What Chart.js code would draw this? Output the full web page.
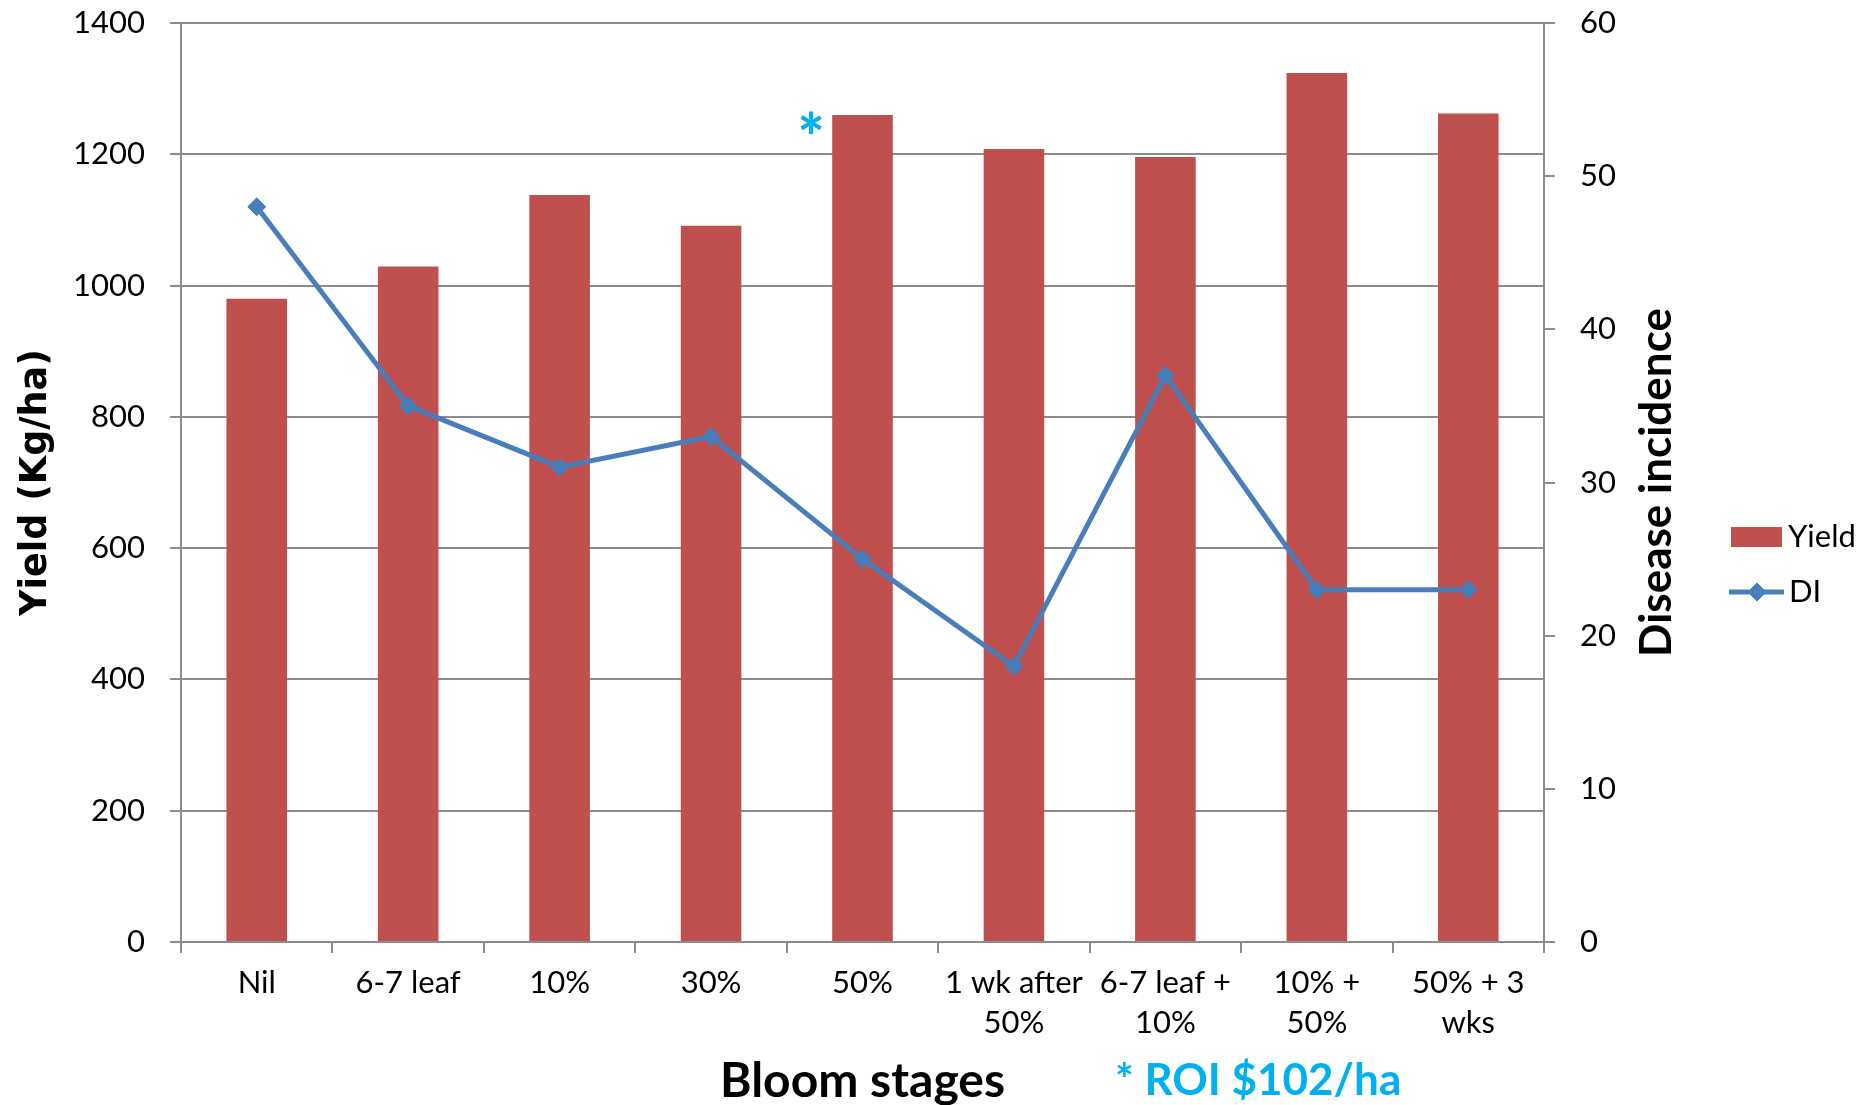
<!DOCTYPE html>
<html>
<head>
<meta charset="utf-8">
<script src="https://cdn.jsdelivr.net/npm/chart.js@4/dist/chart.umd.min.js"></script>
<style>
  html, body { margin: 0; padding: 0; background: #ffffff; }
  #wrap { width: 1862px; height: 1105px; }
</style>
</head>
<body>
<div id="wrap"><canvas id="chart" width="1862" height="1105"></canvas></div>
<script>
// Bloom-stage fungicide timings (two-line labels where the text wraps)
const stages = [
  ['Nil'], ['6-7 leaf'], ['10%'], ['30%'], ['50%'],
  ['1 wk after', '50%'], ['6-7 leaf +', '10%'], ['10% +', '50%'], ['50% + 3', 'wks']
];
// Yield, Kg/ha (bars, left axis)
const yieldKgHa = [980, 1029, 1138, 1091, 1260, 1208, 1196, 1324, 1262];
// Disease incidence (line, right axis)
const diseaseIncidence = [48, 35, 31, 33, 25, 18, 37, 23, 23];
// Axis tick values
const yieldTicks = [0, 200, 400, 600, 800, 1000, 1200, 1400];
const diTicks = [0, 10, 20, 30, 40, 50, 60];
// Text
const seriesNames = ['Yield', 'DI'];
const yieldTitle = 'Yield (Kg/ha)';
const diTitle = 'Disease incidence';
const stageTitle = 'Bloom stages';
const roiNote = '* ROI $102/ha';
const roiMark = '*';
const roiStageIndex = 4; // the '50%' timing carries the ROI mark

const BAR = '#C0504D';
const LINE = '#4A7EBB';
const GRID = '#8C8C8C';
const CYAN = '#00B0F0';
const FONT = 'Lato';
const tickFont = { family: FONT, size: 31, lineHeight: 1.28 };

// remove the extra room Chart.js reserves for overhanging tick labels
const noOverhang = s => { s.paddingTop = 0; s.paddingBottom = 0; s.paddingLeft = 0; s.paddingRight = 0; };

const decorations = {
  id: 'decorations',
  afterDraw(chart) {
    const { ctx, chartArea: a } = chart;
    const midY = (a.top + a.bottom) / 2;
    ctx.save();
    ctx.fillStyle = '#000';

    // left axis title
    ctx.save();
    ctx.font = 'bold 36.5px "DejaVu Sans"';
    ctx.textAlign = 'center';
    ctx.textBaseline = 'middle';
    ctx.translate(37, midY);
    ctx.rotate(-Math.PI / 2);
    ctx.fillText(yieldTitle, 0, 0);
    ctx.restore();

    // right axis title
    ctx.save();
    ctx.font = `bold 44px ${FONT}`;
    ctx.textAlign = 'center';
    ctx.textBaseline = 'middle';
    ctx.translate(1657, midY);
    ctx.rotate(-Math.PI / 2);
    ctx.fillText(diTitle, 0, 0);
    ctx.restore();

    // category axis title and ROI note
    ctx.font = `bold 48px ${FONT}`;
    ctx.textAlign = 'center';
    ctx.textBaseline = 'alphabetic';
    ctx.fillText(stageTitle, (a.left + a.right) / 2, 1097);
    ctx.font = `bold 44px ${FONT}`;
    ctx.fillStyle = CYAN;
    ctx.textAlign = 'left';
    ctx.fillText(roiNote, 1115, 1095);

    // ROI mark at the top-left corner of the marked bar
    const bar = chart.getDatasetMeta(1).data[roiStageIndex];
    ctx.font = `900 64px ${FONT}`;
    const m = ctx.measureText(roiMark);
    const cx = bar.x - bar.width / 2 - 21;
    const cy = bar.y + 8;
    ctx.textAlign = 'center';
    ctx.fillText(roiMark, cx, cy + m.actualBoundingBoxAscent - (m.actualBoundingBoxAscent + m.actualBoundingBoxDescent) / 2);

    // legend
    const lineDs = chart.data.datasets[0];
    const barDs = chart.data.datasets[1];
    ctx.fillStyle = barDs.backgroundColor;
    ctx.fillRect(1731, 527, 51, 20);
    ctx.strokeStyle = lineDs.borderColor;
    ctx.lineWidth = lineDs.borderWidth;
    ctx.beginPath();
    ctx.moveTo(1729, 592);
    ctx.lineTo(1784, 592);
    ctx.stroke();
    ctx.fillStyle = lineDs.pointBackgroundColor;
    ctx.lineWidth = 1;
    Chart.helpers.drawPoint(ctx, { pointStyle: 'rectRot', radius: lineDs.pointRadius, borderWidth: 1, rotation: 0 }, 1757, 592);
    ctx.fillStyle = '#000';
    ctx.font = `31px ${FONT}`;
    ctx.textAlign = 'left';
    ctx.textBaseline = 'middle';
    ctx.fillText(barDs.label, 1788, 537);
    ctx.fillText(lineDs.label, 1789, 592);
    ctx.restore();
  }
};

new Chart(document.getElementById('chart'), {
  type: 'bar',
  data: {
    labels: stages,
    datasets: [
      {
        type: 'line',
        label: seriesNames[1],
        data: diseaseIncidence,
        yAxisID: 'y1',
        order: 0,
        borderColor: LINE,
        borderWidth: 5,
        pointStyle: 'rectRot',
        pointRadius: 9,
        pointBorderWidth: 1,
        pointBackgroundColor: LINE,
        pointBorderColor: LINE,
        tension: 0,
        fill: false
      },
      {
        type: 'bar',
        label: seriesNames[0],
        data: yieldKgHa,
        yAxisID: 'y',
        order: 1,
        backgroundColor: BAR,
        borderWidth: 0,
        barPercentage: 0.4,
        categoryPercentage: 1.0
      }
    ]
  },
  options: {
    responsive: false,
    animation: false,
    devicePixelRatio: 1,
    layout: { padding: { top: 23, left: 0, right: 0, bottom: 0 } },
    plugins: { legend: { display: false }, tooltip: { enabled: false } },
    scales: {
      x: {
        offset: true,
        grid: { offset: true, drawOnChartArea: false, drawTicks: true, tickLength: 11, color: GRID, lineWidth: 2 },
        border: { color: GRID, width: 2 },
        ticks: { font: tickFont, color: '#000', padding: 10, maxRotation: 0, minRotation: 0, autoSkip: false },
        afterFit: s => { s.height = 163; noOverhang(s); }
      },
      y: {
        position: 'left',
        min: 0, max: 1400,
        afterBuildTicks: s => { s.ticks = yieldTicks.map(v => ({ value: v })); },
        ticks: { font: tickFont, color: '#000', padding: 25, callback: v => String(v) },
        grid: { color: GRID, lineWidth: 2, tickLength: 11 },
        border: { color: GRID, width: 2 },
        afterFit: s => { s.width = 181; noOverhang(s); }
      },
      y1: {
        position: 'right',
        min: 0, max: 60,
        afterBuildTicks: s => { s.ticks = diTicks.map(v => ({ value: v })); },
        ticks: { font: tickFont, color: '#000', padding: 25, callback: v => String(v) },
        grid: { drawOnChartArea: false, color: GRID, lineWidth: 2, tickLength: 11 },
        border: { color: GRID, width: 2 },
        afterFit: s => { s.width = 318; noOverhang(s); }
      }
    }
  },
  plugins: [decorations]
});
</script>
</body>
</html>
